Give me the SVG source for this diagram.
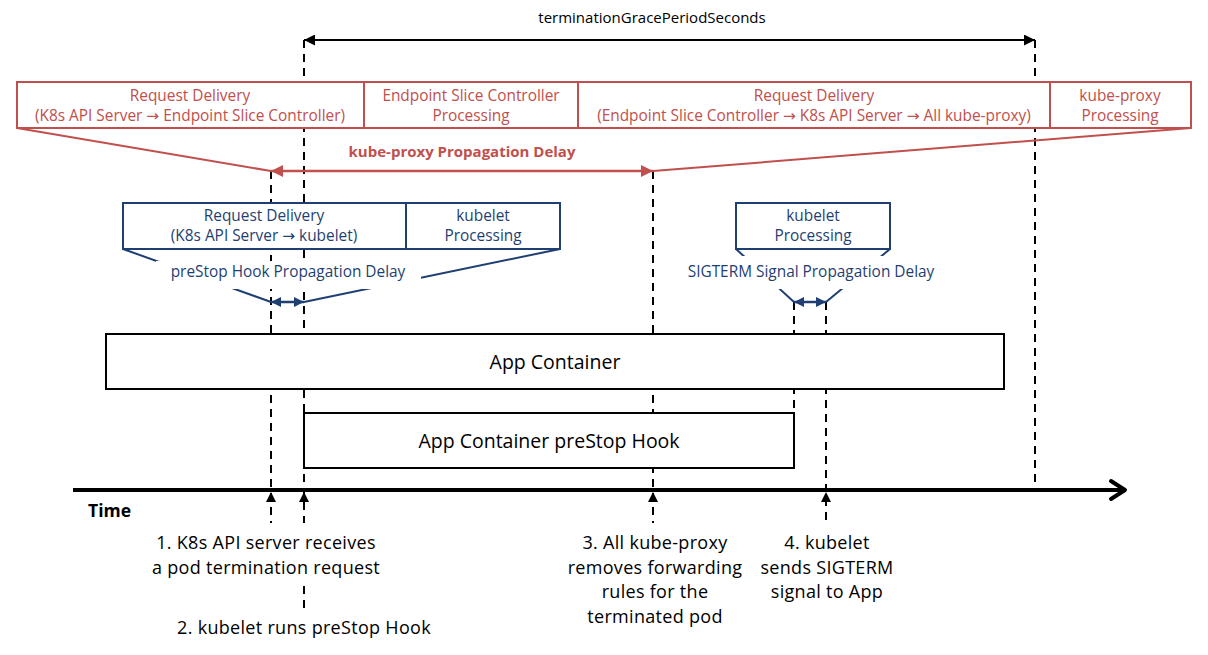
<svg xmlns="http://www.w3.org/2000/svg" width="1208" height="655" viewBox="0 0 1208 655">
<defs>
<style>
text{font-family:"Open Sans","Noto Sans","DejaVu Sans",sans-serif;}
.t{font-size:15px;fill:#000;text-anchor:middle}
.r{font-size:15.4px;fill:#C0504D;text-anchor:middle}
.b{font-size:15.4px;fill:#1F3F73;text-anchor:middle}
.lbl{font-size:18px;letter-spacing:0.3px;fill:#000;text-anchor:middle}
.big{font-size:19.5px;fill:#000;text-anchor:middle}
.dash{stroke:#000;stroke-width:2;stroke-dasharray:8 6;fill:none}
.rbox{fill:#fff;stroke:#C0504D;stroke-width:2}
.bbox{fill:#fff;stroke:#1F3F73;stroke-width:2}
.kbox{fill:#fff;stroke:#000;stroke-width:2}
</style>
<marker id="ak" viewBox="0 0 10 10" refX="10" refY="5" markerWidth="12" markerHeight="11" markerUnits="userSpaceOnUse" orient="auto-start-reverse"><path d="M0,0 L10,5 L0,10 z" fill="#000"/></marker>
<marker id="ar" viewBox="0 0 10 10" refX="10" refY="5" markerWidth="13" markerHeight="12" markerUnits="userSpaceOnUse" orient="auto-start-reverse"><path d="M0,0 L10,5 L0,10 z" fill="#C0504D"/></marker>
<marker id="ab" viewBox="0 0 10 10" refX="10" refY="5" markerWidth="11" markerHeight="10" markerUnits="userSpaceOnUse" orient="auto-start-reverse"><path d="M0,0 L10,5 L0,10 z" fill="#1F3F73"/></marker>
</defs>
<rect width="1208" height="655" fill="#fff"/>

<g id="connectors">
<line class="dash" x1="304" y1="40" x2="304" y2="523"/>
<line class="dash" x1="304" y1="586" x2="304" y2="610"/>
<line class="dash" x1="1035" y1="40" x2="1035" y2="489"/>
<line class="dash" x1="271" y1="171" x2="271" y2="523"/>
<line class="dash" x1="653" y1="171" x2="653" y2="523"/>
<line class="dash" x1="794" y1="302" x2="794" y2="413"/>
<line class="dash" x1="826" y1="302" x2="826" y2="523"/>
<line x1="304" y1="40" x2="1035" y2="40" stroke="#000" stroke-width="2" marker-start="url(#ak)" marker-end="url(#ak)"/>
<line x1="17" y1="128" x2="271" y2="171" stroke="#C0504D" stroke-width="2"/>
<line x1="1191" y1="128" x2="653" y2="171" stroke="#C0504D" stroke-width="2"/>
<line x1="271" y1="171" x2="653" y2="171" stroke="#C0504D" stroke-width="2.5" marker-start="url(#ar)" marker-end="url(#ar)"/>
<line x1="123" y1="249" x2="271" y2="302" stroke="#1F3F73" stroke-width="2"/>
<line x1="560" y1="249" x2="304" y2="302" stroke="#1F3F73" stroke-width="2"/>
<line x1="271" y1="302" x2="304" y2="302" stroke="#1F3F73" stroke-width="2.5" marker-start="url(#ab)" marker-end="url(#ab)"/>
<line x1="736" y1="249" x2="794" y2="302" stroke="#1F3F73" stroke-width="2"/>
<line x1="890" y1="249" x2="826" y2="302" stroke="#1F3F73" stroke-width="2"/>
<line x1="794" y1="302" x2="826" y2="302" stroke="#1F3F73" stroke-width="2.5" marker-start="url(#ab)" marker-end="url(#ab)"/>
<line x1="73" y1="490" x2="1124" y2="490" stroke="#000" stroke-width="4"/>
<polyline points="1111,481 1125,490 1111,499" fill="none" stroke="#000" stroke-width="4" stroke-linecap="round" stroke-linejoin="round"/>
<path d="M266,502 L271,492 L276,502 z" fill="#000"/>
<path d="M299,502 L304,492 L309,502 z" fill="#000"/>
<path d="M648,502 L653,492 L658,502 z" fill="#000"/>
<path d="M821,502 L826,492 L831,502 z" fill="#000"/>
</g>

<text class="t" x="652" y="23">terminationGracePeriodSeconds</text>

<g id="kube-proxy-delay">
<rect class="rbox" x="17" y="82" width="1174" height="46"/>
<line x1="364" y1="82" x2="364" y2="128" stroke="#C0504D" stroke-width="2"/>
<line x1="578" y1="82" x2="578" y2="128" stroke="#C0504D" stroke-width="2"/>
<line x1="1050" y1="82" x2="1050" y2="128" stroke="#C0504D" stroke-width="2"/>
<text class="r" x="190" y="101">Request Delivery<tspan x="190" dy="20">(K8s API Server → Endpoint Slice Controller)</tspan></text>
<text class="r" x="471" y="101">Endpoint Slice Controller<tspan x="471" dy="20">Processing</tspan></text>
<text class="r" x="814" y="101">Request Delivery<tspan x="814" dy="20">(Endpoint Slice Controller → K8s API Server → All kube-proxy)</tspan></text>
<text class="r" x="1120" y="101">kube-proxy<tspan x="1120" dy="20">Processing</tspan></text>
<text x="462" y="157" font-size="15" font-weight="bold" fill="#C0504D" text-anchor="middle">kube-proxy Propagation Delay</text>
</g>

<g id="prestop-delay">
<rect class="bbox" x="123" y="203" width="437" height="46"/>
<line x1="406" y1="203" x2="406" y2="249" stroke="#1F3F73" stroke-width="2"/>
<text class="b" x="264" y="221">Request Delivery<tspan x="264" dy="20">(K8s API Server → kubelet)</tspan></text>
<text class="b" x="483" y="221">kubelet<tspan x="483" dy="20">Processing</tspan></text>
<rect x="156" y="261" width="265" height="28" fill="#fff"/>
<text class="b" x="288" y="277">preStop Hook Propagation Delay</text>
</g>

<g id="sigterm-delay">
<rect class="bbox" x="736" y="203" width="154" height="46"/>
<text class="b" x="813" y="221">kubelet<tspan x="813" dy="20">Processing</tspan></text>
<rect x="680" y="256" width="262" height="33" fill="#fff"/>
<text class="b" x="811" y="277">SIGTERM Signal Propagation Delay</text>
</g>

<g id="app-container">
<rect class="kbox" x="106" y="334" width="898" height="55"/>
<text class="big" x="555" y="369">App Container</text>
</g>

<g id="prestop-hook">
<rect class="kbox" x="304" y="413" width="490" height="55"/>
<text class="big" x="549" y="448">App Container preStop Hook</text>
</g>

<g id="labels">
<text x="88" y="517" font-size="17.5" font-weight="bold" fill="#000">Time</text>
<text class="lbl" x="266" y="549">1. K8s API server receives<tspan x="266" dy="24.5">a pod termination request</tspan></text>
<text class="lbl" x="304" y="634">2. kubelet runs preStop Hook</text>
<text class="lbl" x="655" y="549">3. All kube-proxy<tspan x="655" dy="24.5">removes forwarding</tspan><tspan x="655" dy="24.5">rules for the</tspan><tspan x="655" dy="24.5">terminated pod</tspan></text>
<text class="lbl" x="827" y="549">4. kubelet<tspan x="827" dy="24.5">sends SIGTERM</tspan><tspan x="827" dy="24.5">signal to App</tspan></text>
</g>
</svg>
